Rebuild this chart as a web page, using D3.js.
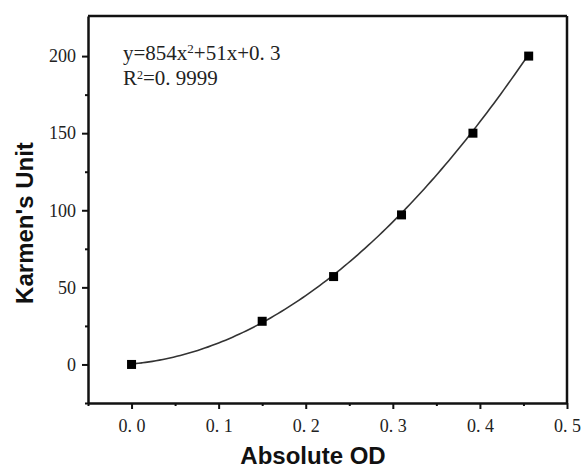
<!DOCTYPE html>
<html>
<head>
<meta charset="utf-8">
<script src="https://cdn.jsdelivr.net/npm/d3@7"></script>
<style>
  body { margin: 0; background: #fff; }
  .tick text { font-family: "Liberation Serif", "DejaVu Serif", serif; font-size: 18px; fill: #222; }
  .axis-title { font-family: "Liberation Sans", Arial, sans-serif; font-weight: bold; font-size: 24px; fill: #111; }
  .eq { font-family: "Liberation Serif", "DejaVu Serif", serif; font-size: 21px; fill: #222; }
</style>
</head>
<body>
<svg id="chart" width="584" height="470"></svg>
<script>
// measured points (Absolute OD vs Karmen's Unit)
var odValues = [0, 0.15, 0.232, 0.31, 0.392, 0.456];
var unitValues = [0, 28, 57, 97, 150, 200];

// fitted quadratic: a*x^2 + b*x + c
var fitCoef = [854, 51, 0.3];

var xTicks = [0, 0.1, 0.2, 0.3, 0.4, 0.5];
var xTickLabels = ["0. 0", "0. 1", "0. 2", "0. 3", "0. 4", "0. 5"];
var xMinorTicks = [-0.05, 0.05, 0.15, 0.25, 0.35, 0.45];
var yTicks = [0, 50, 100, 150, 200];
var yMinorTicks = [-25, 25, 75, 125, 175];

var svg = d3.select('#chart');

// plot frame (named so as not to clash with window.top)
var pLeft = 88, pRight = 567, pTop = 16, pBottom = 403;

var x = d3.scaleLinear().domain([-0.05, 0.5]).range([pLeft, pRight]);
var y = d3.scaleLinear().domain([-25, 226]).range([pBottom, pTop]);

// minor ticks first so the axes draw over them
svg.append('g')
  .attr('transform', 'translate(0,' + pBottom + ')')
  .call(d3.axisBottom(x).tickValues(xMinorTicks).tickSize(3).tickFormat(''))
  .call(function(g) { g.select('.domain').remove(); })
  .selectAll('line').attr('stroke-width', 2).attr('stroke', '#111');

svg.append('g')
  .attr('transform', 'translate(' + pLeft + ',0)')
  .call(d3.axisLeft(y).tickValues(yMinorTicks).tickSize(3).tickFormat(''))
  .call(function(g) { g.select('.domain').remove(); })
  .selectAll('line').attr('stroke-width', 2).attr('stroke', '#111');

var xAxis = svg.append('g')
  .attr('transform', 'translate(0,' + pBottom + ')')
  .call(d3.axisBottom(x).tickValues(xTicks).tickSize(6).tickPadding(10)
    .tickSizeOuter(0)
    .tickFormat(function(d, i) { return xTickLabels[i]; }));

var yAxis = svg.append('g')
  .attr('transform', 'translate(' + pLeft + ',0)')
  .call(d3.axisLeft(y).tickValues(yTicks).tickSize(6).tickPadding(6)
    .tickSizeOuter(0));

[xAxis, yAxis].forEach(function(g) {
  g.select('.domain').attr('stroke-width', 2.5).attr('stroke', '#111');
  g.selectAll('.tick line').attr('stroke-width', 2).attr('stroke', '#111');
});

// top and right sides of the frame
svg.append('line')
  .attr('x1', pLeft).attr('x2', pRight).attr('y1', pTop).attr('y2', pTop)
  .attr('stroke', '#111').attr('stroke-width', 2.5);
svg.append('line')
  .attr('x1', pRight).attr('x2', pRight).attr('y1', pTop).attr('y2', pBottom)
  .attr('stroke', '#111').attr('stroke-width', 2.5);

// fit curve
var fitX = d3.range(0, odValues[odValues.length - 1] + 0.0001, 0.004);
var line = d3.line()
  .x(function(d) { return x(d); })
  .y(function(d) { return y(fitCoef[0] * d * d + fitCoef[1] * d + fitCoef[2]); })
  .curve(d3.curveMonotoneX);

svg.append('path')
  .datum(fitX)
  .attr('d', line)
  .attr('fill', 'none')
  .attr('stroke', '#333')
  .attr('stroke-width', 1.6);

// markers
var ms = 9;
svg.selectAll('rect.pt')
  .data(odValues)
  .enter().append('rect')
  .attr('class', 'pt')
  .attr('x', function(d) { return x(d) - ms / 2; })
  .attr('y', function(d, i) { return y(unitValues[i]) - ms / 2; })
  .attr('width', ms).attr('height', ms)
  .attr('fill', '#000');

// equation text
var eq = svg.append('text').attr('class', 'eq').attr('x', 123).attr('y', 60);
eq.append('tspan').text('y=854x');
eq.append('tspan').attr('dy', -7).attr('font-size', 13).text('2');
eq.append('tspan').attr('dy', 7).text('+51x+0. 3');

var r2 = svg.append('text').attr('class', 'eq').attr('x', 123).attr('y', 85);
r2.append('tspan').text('R');
r2.append('tspan').attr('dy', -6).attr('font-size', 12).text('2');
r2.append('tspan').attr('dy', 6).text('=0. 9999');

// axis titles
svg.append('text')
  .attr('class', 'axis-title')
  .attr('text-anchor', 'middle')
  .attr('x', 313)
  .attr('y', 464)
  .text('Absolute OD');

svg.append('text')
  .attr('class', 'axis-title')
  .attr('text-anchor', 'middle')
  .attr('transform', 'translate(33,223) rotate(-90)')
  .text("Karmen's Unit");
</script>
</body>
</html>
